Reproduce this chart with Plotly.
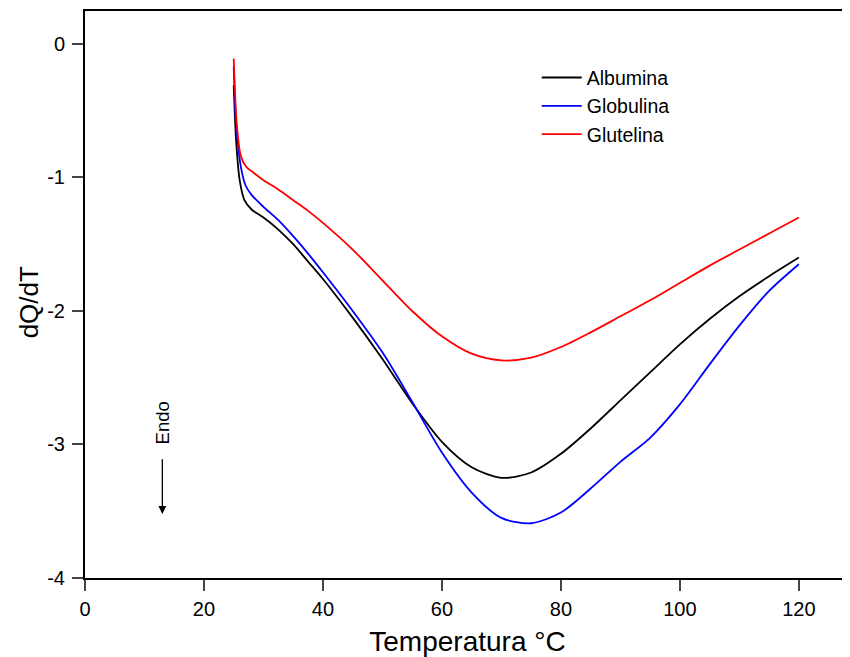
import plotly.graph_objects as go

# Albumina
alb_x = [25.0, 25.4, 26.0, 26.8, 28.0, 30.0, 32.5, 35.0, 37.5, 40.0, 45.0, 50.0, 55.0, 60.0, 65.0, 70.0, 75.0, 80.0, 85.0, 90.0, 95.0, 100.0, 105.0, 110.0, 115.0, 120.0]
alb_y = [-0.31, -0.72, -1.02, -1.17, -1.24, -1.30, -1.39, -1.50, -1.63, -1.76, -2.05, -2.36, -2.69, -2.98, -3.17, -3.25, -3.21, -3.07, -2.88, -2.67, -2.46, -2.25, -2.06, -1.89, -1.74, -1.60]

# Globulina
glo_x = [25.0, 25.4, 26.2, 27.0, 28.0, 30.0, 32.5, 35.0, 37.5, 40.0, 45.0, 50.0, 55.0, 60.0, 65.0, 70.0, 75.0, 80.0, 85.0, 90.0, 95.0, 100.0, 105.0, 110.0, 115.0, 120.0]
glo_y = [-0.17, -0.59, -0.92, -1.06, -1.13, -1.22, -1.32, -1.44, -1.57, -1.71, -2.00, -2.31, -2.68, -3.06, -3.36, -3.55, -3.59, -3.51, -3.33, -3.13, -2.95, -2.70, -2.40, -2.11, -1.85, -1.65]

# Glutelina
glu_x = [25.0, 25.5, 26.2, 27.1, 28.5, 30.0, 32.5, 35.0, 37.5, 40.0, 45.0, 50.0, 55.0, 60.0, 65.0, 70.0, 75.0, 80.0, 85.0, 90.0, 95.0, 100.0, 105.0, 110.0, 115.0, 120.0]
glu_y = [-0.11, -0.59, -0.84, -0.92, -0.97, -1.02, -1.09, -1.17, -1.25, -1.34, -1.54, -1.77, -2.00, -2.19, -2.32, -2.37, -2.35, -2.27, -2.16, -2.04, -1.92, -1.79, -1.66, -1.54, -1.42, -1.30]

names = ["Albumina", "Globulina", "Glutelina"]
colors = ["#000000", "#0000ff", "#ff0000"]

x_ticks = [0, 20, 40, 60, 80, 100, 120]
y_ticks = [0, -1, -2, -3, -4]
y_tick_text = ["0", "-1", "-2", "-3", "-4"]

FONT = "Liberation Sans, Arial, sans-serif"

fig = go.Figure()
for xs, ys, n, c in zip([alb_x, glo_x, glu_x], [alb_y, glo_y, glu_y], names, colors):
    fig.add_trace(go.Scatter(x=xs, y=ys, mode="lines", name=n, legendgroup=n,
                             line=dict(color=c, width=1.8, shape="spline", smoothing=0.8)))

# page body has an 8px margin, so the figure is sized/offset to compensate
fig.update_layout(
    width=842, height=649,
    margin=dict(l=77, t=3, r=0, b=79, autoexpand=False),
    plot_bgcolor="white", paper_bgcolor="white",
    font=dict(family=FONT, color="black"),
    showlegend=True,
    legend=dict(x=0.5905, y=0.9165, xanchor="left", yanchor="top",
                font=dict(size=19.5, family=FONT), bgcolor="rgba(0,0,0,0)",
                tracegroupgap=0, itemwidth=40),
    xaxis=dict(range=[0, 128.6], tickvals=x_ticks, ticks="outside", ticklen=11, tickwidth=2,
               ticklabelstandoff=1,
               showline=True, linewidth=2, linecolor="black", mirror=True, automargin=False,
               showgrid=False, zeroline=False, tickfont=dict(size=20),
               title=dict(text="Temperatura °C", font=dict(size=28), standoff=14)),
    yaxis=dict(range=[-4, 0.247], tickvals=y_ticks, ticktext=y_tick_text, ticks="outside",
               ticklen=11, tickwidth=2, automargin=False, ticklabelstandoff=3,
               showline=True, linewidth=2, linecolor="black", mirror=False,
               showgrid=False, zeroline=False, tickfont=dict(size=20)),
)

# y-axis title (placed slightly below the plot's vertical centre, as in the reference)
fig.add_annotation(x=-0.0739, y=0.487, xref="paper", yref="paper", text="dQ/dT",
                   xanchor="center", yanchor="middle",
                   textangle=-90, showarrow=False, font=dict(size=26, family=FONT))

fig.add_annotation(x=13.0, y=-2.84, text="Endo", textangle=-90, showarrow=False,
                   xanchor="center", yanchor="middle",
                   font=dict(size=18.5, family=FONT), xref="x", yref="y")
fig.add_annotation(x=13.0, y=-3.52, ax=13.0, ay=-3.1, axref="x", ayref="y",
                   xref="x", yref="y", text="", showarrow=True,
                   arrowhead=2, arrowsize=1.2, arrowwidth=1.3, arrowcolor="black")

fig.write_html("out.html")
